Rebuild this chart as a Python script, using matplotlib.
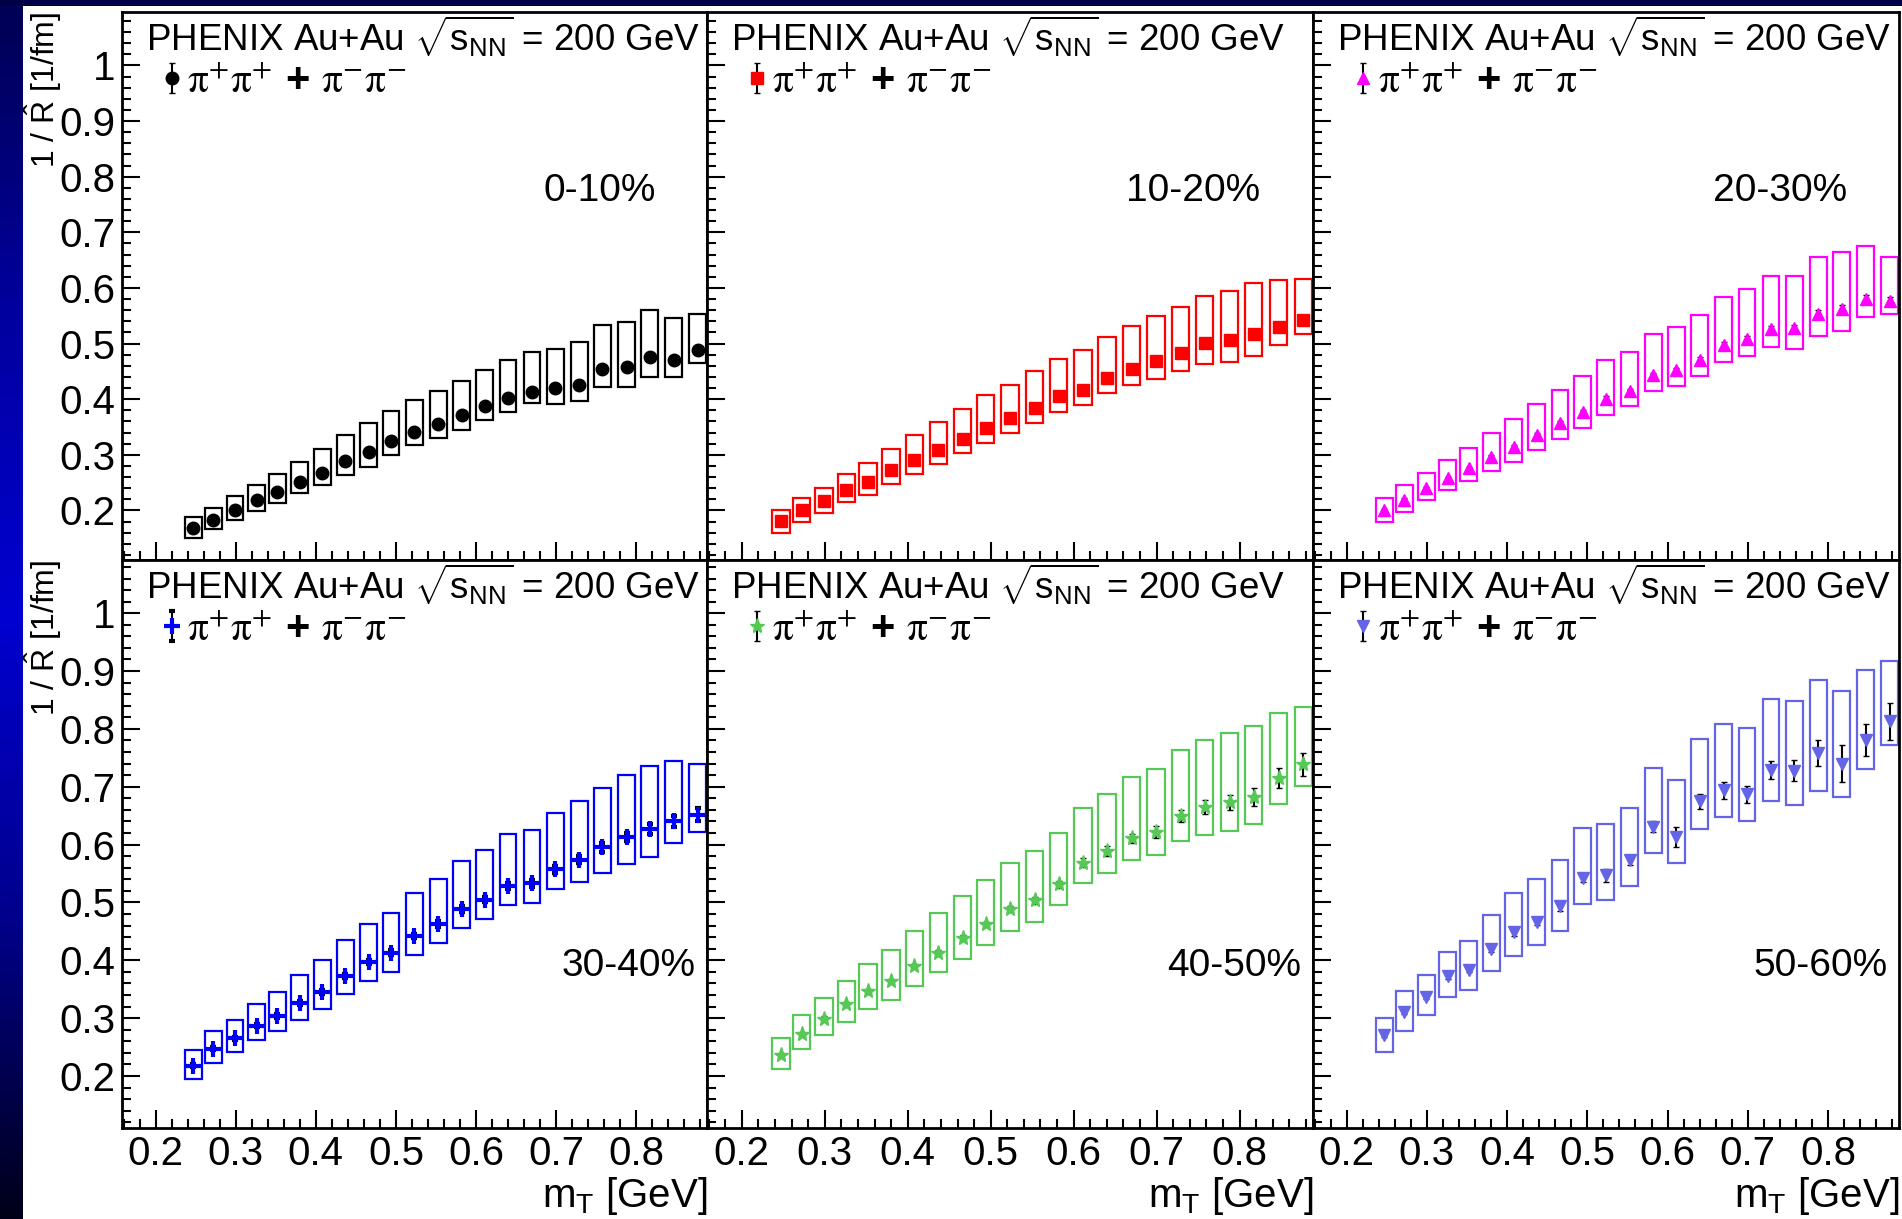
import numpy as np
import matplotlib
matplotlib.use('Agg')
import matplotlib.pyplot as plt
from matplotlib.colors import LinearSegmentedColormap
from matplotlib.font_manager import FontProperties
from matplotlib.ticker import MultipleLocator, FuncFormatter
from matplotlib.legend_handler import HandlerErrorbar
from matplotlib.container import ErrorbarContainer

plt.rcParams['font.family'] = ['Liberation Sans', 'DejaVu Sans']
plt.rcParams['mathtext.fontset'] = 'custom'
plt.rcParams['mathtext.rm'] = 'Liberation Sans'
plt.rcParams['mathtext.it'] = 'Liberation Sans:italic'
plt.rcParams['mathtext.bf'] = 'Liberation Sans:bold'

# m_T bin centres [GeV], same for every centrality
mt = [0.247, 0.272, 0.299, 0.326, 0.352, 0.380, 0.408, 0.437, 0.466, 0.494, 0.523, 0.553,
      0.582, 0.611, 0.640, 0.670, 0.699, 0.729, 0.758, 0.788, 0.817, 0.847, 0.877]

centralities = ['0-10%', '10-20%', '20-30%', '30-40%', '40-50%', '50-60%']

# 1/R values [1/fm]
val_0_10 = [0.168, 0.183, 0.201, 0.219, 0.233, 0.252, 0.268, 0.289, 0.306, 0.324, 0.341, 0.356,
            0.371, 0.387, 0.402, 0.413, 0.420, 0.425, 0.455, 0.458, 0.475, 0.470, 0.488]
val_10_20 = [0.181, 0.201, 0.217, 0.236, 0.252, 0.272, 0.291, 0.309, 0.329, 0.349, 0.367, 0.385,
             0.405, 0.417, 0.438, 0.454, 0.468, 0.483, 0.501, 0.507, 0.518, 0.530, 0.543]
val_20_30 = [0.200, 0.219, 0.240, 0.258, 0.276, 0.296, 0.315, 0.336, 0.357, 0.377, 0.401, 0.414,
             0.443, 0.453, 0.470, 0.497, 0.509, 0.526, 0.528, 0.554, 0.563, 0.581, 0.576]
val_30_40 = [0.218, 0.247, 0.265, 0.287, 0.304, 0.326, 0.345, 0.373, 0.397, 0.413, 0.442, 0.463,
             0.489, 0.505, 0.529, 0.533, 0.557, 0.574, 0.595, 0.613, 0.627, 0.640, 0.652]
val_40_50 = [0.237, 0.273, 0.299, 0.324, 0.346, 0.364, 0.390, 0.413, 0.438, 0.462, 0.488, 0.504,
             0.531, 0.569, 0.589, 0.611, 0.622, 0.649, 0.665, 0.673, 0.682, 0.715, 0.739]
val_50_60 = [0.271, 0.311, 0.337, 0.372, 0.384, 0.420, 0.448, 0.467, 0.493, 0.542, 0.547, 0.573,
             0.631, 0.613, 0.675, 0.694, 0.687, 0.729, 0.728, 0.758, 0.740, 0.781, 0.813]

# statistical errors (black bars)
stat_0_10 = [0.003, 0.003, 0.003, 0.003, 0.003, 0.003, 0.003, 0.003, 0.003, 0.003, 0.003, 0.003,
             0.003, 0.003, 0.003, 0.003, 0.004, 0.004, 0.004, 0.004, 0.005, 0.005, 0.005]
stat_10_20 = [0.003, 0.003, 0.003, 0.003, 0.003, 0.003, 0.003, 0.003, 0.003, 0.003, 0.003, 0.003,
              0.003, 0.004, 0.004, 0.004, 0.004, 0.004, 0.005, 0.005, 0.005, 0.006, 0.006]
stat_20_30 = [0.003, 0.003, 0.003, 0.003, 0.003, 0.003, 0.003, 0.003, 0.004, 0.004, 0.004, 0.004,
              0.004, 0.004, 0.005, 0.005, 0.005, 0.005, 0.006, 0.006, 0.007, 0.007, 0.008]
stat_30_40 = [0.003, 0.003, 0.003, 0.003, 0.003, 0.004, 0.004, 0.004, 0.004, 0.004, 0.004, 0.005,
              0.005, 0.005, 0.005, 0.006, 0.006, 0.006, 0.007, 0.007, 0.008, 0.010, 0.012]
stat_40_50 = [0.003, 0.003, 0.004, 0.004, 0.004, 0.004, 0.004, 0.005, 0.005, 0.005, 0.005, 0.006,
              0.006, 0.007, 0.008, 0.008, 0.010, 0.010, 0.012, 0.013, 0.015, 0.017, 0.020]
stat_50_60 = [0.004, 0.004, 0.004, 0.005, 0.005, 0.005, 0.006, 0.006, 0.007, 0.007, 0.011, 0.008,
              0.009, 0.018, 0.013, 0.015, 0.015, 0.016, 0.018, 0.022, 0.032, 0.027, 0.032]

# systematic boxes: lower / upper edge
syslo_0_10 = [0.150, 0.166, 0.182, 0.199, 0.213, 0.232, 0.245, 0.263, 0.279, 0.299, 0.317, 0.331,
              0.344, 0.362, 0.377, 0.393, 0.392, 0.397, 0.422, 0.422, 0.440, 0.440, 0.465]
syshi_0_10 = [0.188, 0.205, 0.226, 0.246, 0.265, 0.288, 0.311, 0.336, 0.357, 0.379, 0.399, 0.415,
              0.433, 0.453, 0.470, 0.485, 0.491, 0.502, 0.534, 0.538, 0.561, 0.546, 0.553]
syslo_10_20 = [0.160, 0.179, 0.195, 0.215, 0.228, 0.248, 0.265, 0.283, 0.303, 0.321, 0.339, 0.358,
               0.377, 0.389, 0.411, 0.425, 0.437, 0.450, 0.463, 0.467, 0.478, 0.498, 0.518]
syshi_10_20 = [0.201, 0.223, 0.241, 0.265, 0.285, 0.311, 0.336, 0.359, 0.383, 0.407, 0.426, 0.450,
               0.473, 0.488, 0.511, 0.531, 0.549, 0.566, 0.586, 0.594, 0.609, 0.614, 0.616]
syslo_20_30 = [0.180, 0.197, 0.219, 0.236, 0.253, 0.271, 0.288, 0.308, 0.328, 0.349, 0.372, 0.387,
               0.414, 0.424, 0.442, 0.467, 0.478, 0.493, 0.490, 0.513, 0.523, 0.548, 0.553]
syshi_20_30 = [0.223, 0.246, 0.268, 0.291, 0.313, 0.340, 0.364, 0.392, 0.417, 0.442, 0.470, 0.485,
               0.517, 0.529, 0.551, 0.584, 0.599, 0.622, 0.621, 0.655, 0.664, 0.676, 0.656]
syslo_30_40 = [0.194, 0.222, 0.241, 0.262, 0.277, 0.297, 0.316, 0.342, 0.364, 0.380, 0.409, 0.430,
               0.456, 0.472, 0.495, 0.499, 0.523, 0.535, 0.551, 0.566, 0.579, 0.603, 0.622]
syshi_30_40 = [0.244, 0.278, 0.296, 0.324, 0.345, 0.374, 0.401, 0.435, 0.463, 0.482, 0.516, 0.540,
               0.572, 0.591, 0.618, 0.625, 0.655, 0.675, 0.698, 0.720, 0.736, 0.744, 0.739]
syslo_40_50 = [0.212, 0.246, 0.271, 0.294, 0.315, 0.331, 0.356, 0.379, 0.402, 0.426, 0.451, 0.467,
               0.495, 0.533, 0.551, 0.573, 0.582, 0.607, 0.616, 0.624, 0.635, 0.671, 0.702]
syshi_40_50 = [0.265, 0.306, 0.334, 0.364, 0.393, 0.417, 0.451, 0.481, 0.511, 0.539, 0.569, 0.589,
               0.620, 0.664, 0.687, 0.716, 0.731, 0.764, 0.781, 0.793, 0.805, 0.827, 0.837]
syslo_50_60 = [0.242, 0.278, 0.305, 0.337, 0.348, 0.382, 0.407, 0.426, 0.451, 0.497, 0.505, 0.529,
               0.586, 0.569, 0.627, 0.647, 0.640, 0.675, 0.669, 0.693, 0.682, 0.731, 0.773]
syshi_50_60 = [0.300, 0.346, 0.375, 0.415, 0.433, 0.478, 0.516, 0.540, 0.573, 0.629, 0.636, 0.664,
               0.733, 0.711, 0.782, 0.808, 0.802, 0.851, 0.849, 0.884, 0.866, 0.902, 0.917]

values = [val_0_10, val_10_20, val_20_30, val_30_40, val_40_50, val_50_60]
stats = [stat_0_10, stat_10_20, stat_20_30, stat_30_40, stat_40_50, stat_50_60]
sys_lo = [syslo_0_10, syslo_10_20, syslo_20_30, syslo_30_40, syslo_40_50, syslo_50_60]
sys_hi = [syshi_0_10, syshi_10_20, syshi_20_30, syshi_30_40, syshi_40_50, syshi_50_60]

colors = ['black', '#ff0000', '#ff00ff', '#0000ff', '#55c855', '#6464e6']
markers = ['o', 's', '^', '+', '*', 'v']
msizes = [9, 8.5, 8.5, 11, 11, 9]

W, H = 1902, 1219
col_px = [122, 707, 1313, 1899]
row_px = [(12, 560), (560, 1128)]
ylims = [(0.111, 1.096), (0.110, 1.092)]

fig = plt.figure(figsize=(W / 100, H / 100), dpi=100)
fig.patch.set_facecolor('#000046')
page = plt.Rectangle((23 / W, 0), 1, 1 - 6 / H, transform=fig.transFigure,
                     facecolor='white', edgecolor='none', zorder=-5)
fig.add_artist(page)

# blue gradient strip on the left
strip = LinearSegmentedColormap.from_list('strip', [(0, 0, 0.33), (0, 0, 0.62), (0, 0, 0.82),
                                                    (0, 0, 0.55), (0, 0, 0.1)])
gax = fig.add_axes([0, 0, 23 / W, 1 - 6 / H])
gax.imshow(np.linspace(0, 1, 256).reshape(-1, 1), aspect='auto', cmap=strip)
gax.axis('off')

fmt = FuncFormatter(lambda v, p: '%g' % round(v, 2))
legfont = FontProperties(family='Liberation Sans', size=30, weight='bold', math_fontfamily='stix')
leg_label = r'$\mathrm{\pi}^{+}\mathrm{\pi}^{+}$ + $\mathrm{\pi}^{-}\mathrm{\pi}^{-}$'

for i in range(6):
    row, col = i // 3, i % 3
    x0, x1 = col_px[col], col_px[col + 1]
    y0, y1 = row_px[row]
    ax = fig.add_axes([x0 / W, 1 - y1 / H, (x1 - x0) / W, (y1 - y0) / H])
    c = colors[i]
    lo = np.array(sys_lo[i])
    hi = np.array(sys_hi[i])
    ax.bar(mt, hi - lo, width=0.021, bottom=lo, fill=False, edgecolor=c, linewidth=1.6, zorder=2)
    mew = 3 if markers[i] == '+' else 1
    eb = ax.errorbar(mt, values[i], yerr=stats[i], fmt=markers[i], color=c, mec=c, mew=mew,
                     ms=msizes[i], ecolor='black', elinewidth=1.5, capsize=2.5, zorder=3)

    ax.set_xlim(0.158, 0.8885)
    ax.set_ylim(*ylims[row])
    ax.xaxis.set_major_locator(MultipleLocator(0.1))
    ax.xaxis.set_minor_locator(MultipleLocator(0.02))
    ax.yaxis.set_major_locator(MultipleLocator(0.1))
    ax.yaxis.set_minor_locator(MultipleLocator(0.02))
    ax.xaxis.set_major_formatter(fmt)
    ax.yaxis.set_major_formatter(fmt)
    ax.tick_params(which='both', direction='in', top=False, right=False, width=1.5,
                   labelsize=29, pad=5)
    ax.tick_params(which='major', length=13)
    ax.tick_params(which='minor', length=6.5)
    ax.tick_params(labelleft=(col == 0), labelbottom=(row == 1))
    for s in ax.spines.values():
        s.set_linewidth(2)

    ax.annotate(r'PHENIX Au+Au $\sqrt{\mathrm{s}_{\mathrm{NN}}}$ = 200 GeV', xy=(0, 1),
                xycoords='axes fraction', xytext=(17, -28), textcoords='offset points',
                fontsize=26.5, va='baseline', ha='left')
    if row == 0:
        ax.text(0.912, 0.757, centralities[i], transform=ax.get_yaxis_transform(),
                fontsize=28, ha='right', va='baseline')
    else:
        ax.text(0.981, 0.373, centralities[i], transform=ax.get_yaxis_transform(),
                fontsize=28, ha='right', va='baseline')

    ax.legend([eb], [leg_label], loc='upper left',
              bbox_to_anchor=(40 / (x1 - x0), 1 - 50 / (y1 - y0)), frameon=False, prop=legfont,
              handlelength=0.5, handletextpad=0.1, borderpad=0, borderaxespad=0,
              handler_map={ErrorbarContainer: HandlerErrorbar(yerr_size=0.36)})

    if col == 0:
        ax.set_ylabel(r'1 / $\hat{\mathrm{R}}$ [1/fm]', fontsize=23, loc='top')
        ax.yaxis.set_label_coords(-0.099, 1.0)
    if row == 1:
        ax.set_xlabel(r'm$_{\mathrm{T}}$ [GeV]', fontsize=29, loc='right')
        ax.xaxis.set_label_coords(1.0, -0.082)

fig.savefig('out.png', dpi=100, facecolor=fig.get_facecolor())
